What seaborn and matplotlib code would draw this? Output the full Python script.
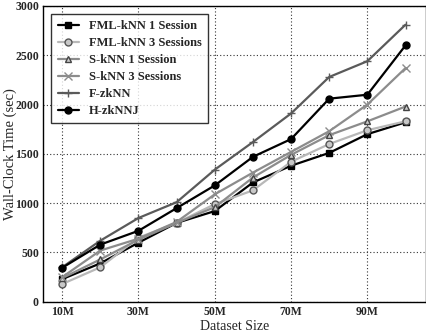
import matplotlib
matplotlib.use("Agg")
import matplotlib.pyplot as plt
import numpy as np
import pandas as pd
import seaborn as sns

# dataset size in millions
sizes = [10, 20, 30, 40, 50, 60, 70, 80, 90, 100]

fml_1 = [230, 390, 600, 800, 920, 1210, 1380, 1510, 1700, 1820]
fml_3 = [180, 350, 650, 800, 990, 1130, 1420, 1600, 1740, 1830]
sknn_1 = [240, 430, 630, 800, 960, 1260, 1490, 1690, 1830, 1980]
sknn_3 = [250, 520, 640, 810, 1090, 1310, 1520, 1730, 2000, 2370]
fzknn = [350, 620, 850, 1010, 1340, 1620, 1910, 2280, 2440, 2810]
hzknnj = [345, 580, 720, 950, 1180, 1470, 1650, 2060, 2100, 2600]

x_ticks = [10, 30, 50, 70, 90]
x_tick_labels = ["10M", "30M", "50M", "70M", "90M"]
y_ticks = [0, 500, 1000, 1500, 2000, 2500, 3000]

series = [
    ("FML-kNN 1 Session", fml_1, dict(color="black", marker="s", mfc="black", mec="black", ms=5, lw=1.6)),
    ("FML-kNN 3 Sessions", fml_3, dict(color="#b8b8b8", marker="o", mfc="#c8c8c8", mec="#555555", ms=5, lw=1.6)),
    ("S-kNN 1 Session", sknn_1, dict(color="#8c8c8c", marker="^", mfc="#cccccc", mec="#444444", ms=5, lw=1.6)),
    ("S-kNN 3 Sessions", sknn_3, dict(color="#8c8c8c", marker="x", mfc="none", mec="#8c8c8c", ms=6, lw=1.6)),
    ("F-zkNN", fzknn, dict(color="#5a5a5a", marker="+", mfc="none", mec="#5a5a5a", ms=6, lw=1.6)),
    ("H-zkNNJ", hzknnj, dict(color="black", marker="o", mfc="black", mec="black", ms=5, lw=1.6)),
]

sns.set_style("white")
plt.rcParams["font.family"] = ["Liberation Serif", "DejaVu Serif"]

fig = plt.figure(figsize=(4.27, 3.32), dpi=100)
ax = fig.add_axes([0.101, 0.091, 0.896, 0.891])

for name, vals, st in series:
    df = pd.DataFrame({"size": sizes, "time": vals})
    sns.lineplot(data=df, x="size", y="time", ax=ax, label=name,
                 color=st["color"], marker=st["marker"], markerfacecolor=st["mfc"],
                 markeredgecolor=st["mec"], markersize=st["ms"], linewidth=st["lw"],
                 markeredgewidth=1.0)

ax.set_xlim(5, 105.3)
ax.set_ylim(0, 3000)
ax.set_xticks(x_ticks)
ax.set_xticklabels(x_tick_labels, fontweight="bold", fontsize=8.5)
ax.set_yticks(y_ticks)
ax.set_yticklabels([str(v) for v in y_ticks], fontweight="bold", fontsize=8.5)
ax.grid(True, linestyle=(0, (1, 2)), color="#333333", linewidth=0.8)
ax.set_xlabel("Dataset Size", fontsize=10)
ax.set_ylabel("Wall-Clock Time (sec)", fontsize=10.5)
ax.xaxis.set_label_coords(0.5, -0.062)
ax.yaxis.set_label_coords(-0.068, 0.5)
for s in ax.spines.values():
    s.set_color("black")
    s.set_linewidth(1.0)
ax.tick_params(axis="both", direction="in", length=4, width=0.8, color="black", pad=3)

leg = ax.legend(loc="upper left", prop={"weight": "bold", "size": 9},
                frameon=True, fancybox=False, edgecolor="black",
                handlelength=1.7, handletextpad=0.8, borderpad=0.5, labelspacing=0.4,
                bbox_to_anchor=(0.005, 0.995))
leg.get_frame().set_linewidth(1.0)

fig.savefig("out.png", dpi=100)
plt.close(fig)
